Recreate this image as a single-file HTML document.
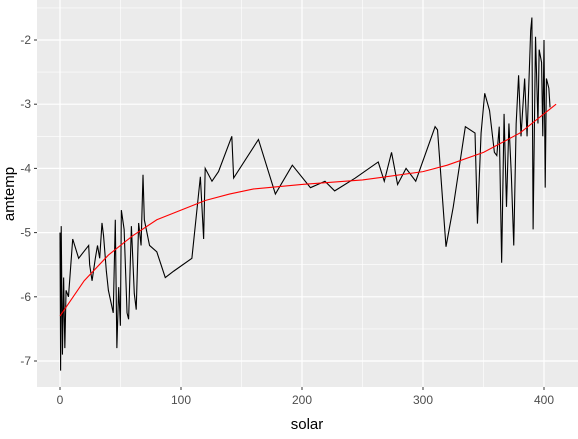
<!DOCTYPE html>
<html><head><meta charset="utf-8"><style>
body{margin:0;background:#fff;font-family:"Liberation Sans",sans-serif}
</style></head><body>
<svg id="c" width="578" height="434"></svg>
<script>
const solar=[0,0.5,1,2,3,4,5,7,10.5,15.4,23.7,24.5,26.5,29.2,31,32.8,34.7,36,38.3,40,44,45.7,47,48.5,49.9,50.7,53,55.4,56.7,59,61.4,63,65,67,68.6,69.7,74,80,87,94,109,116,118.7,120,125.6,131,142,143.5,164,178,192,207,219,227,244,263,268,274,279,286,294,310,312,319,325,335,343,345,348,351,355,359,361,363,365,367,369,371,373,375,377,379,381,384,386,389,390,391,393,395,396,398,399,400,401,402,404,405];
const amtemp=[-5.0,-7.15,-4.9,-6.9,-5.7,-6.8,-5.9,-6.0,-5.1,-5.4,-5.2,-5.5,-5.75,-5.4,-5.2,-5.4,-4.85,-5.05,-5.6,-5.9,-6.25,-4.8,-6.8,-5.85,-6.45,-4.65,-4.95,-6.25,-6.35,-4.9,-5.95,-6.2,-4.85,-5.2,-4.1,-4.8,-5.2,-5.3,-5.7,-5.6,-5.4,-4.13,-5.1,-4.0,-4.2,-4.05,-3.5,-4.15,-3.55,-4.4,-3.95,-4.3,-4.2,-4.35,-4.15,-3.9,-4.2,-3.75,-4.25,-4.0,-4.2,-3.35,-3.4,-5.22,-4.6,-3.35,-3.45,-4.86,-3.45,-2.83,-3.1,-3.75,-3.8,-3.35,-5.47,-3.15,-4.6,-3.3,-4.1,-5.2,-3.3,-2.55,-3.5,-2.6,-3.5,-1.85,-1.65,-4.95,-1.95,-3.3,-2.15,-2.35,-3.5,-2.0,-4.3,-2.6,-2.75,-3.05];
const fitX=[0,20,40,60,80,100,120,140,160,200,250,300,320,350,380,410];
const fitY=[-6.3,-5.75,-5.35,-5.05,-4.8,-4.65,-4.5,-4.4,-4.32,-4.25,-4.18,-4.05,-3.95,-3.75,-3.45,-3.0];
const xTicks=[0,100,200,300,400];
const yTicks=[-2,-3,-4,-5,-6,-7];
const sx=v=>60+v*1.21, sy=v=>40+(-2-v)*64.2;
const svg=document.getElementById('c');const NS='http://www.w3.org/2000/svg';
function el(t,a,p){const e=document.createElementNS(NS,t);for(const k in a)e.setAttribute(k,a[k]);(p||svg).appendChild(e);return e;}
const panel=el('rect',{x:37,y:0,width:541,height:387,fill:'#ebebeb'});


for(const t of xTicks){const m=el('line',{x1:sx(t+50),x2:sx(t+50),y1:0,y2:387,stroke:'#fff','stroke-width':0.6});}
for(const t of yTicks){const m=el('line',{x1:37,x2:578,y1:sy(t+0.5),y2:sy(t+0.5),stroke:'#fff','stroke-width':0.6});}
const m2=el('line',{x1:37,x2:578,y1:sy(-7.5),y2:sy(-7.5),stroke:'#fff','stroke-width':0.6});
for(const t of xTicks){
 const g=el('line',{x1:sx(t),x2:sx(t),y1:0,y2:387,stroke:'#fff','stroke-width':1.2});
 const k=el('line',{x1:sx(t),x2:sx(t),y1:387,y2:390,stroke:'#333'});
 const l=el('text',{x:sx(t),y:404,'text-anchor':'middle','font-size':12,fill:'#4d4d4d'});l.textContent=t;}
for(const t of yTicks){
 const g=el('line',{x1:37,x2:578,y1:sy(t),y2:sy(t),stroke:'#fff','stroke-width':1.2});
 const k=el('line',{x1:34,x2:37,y1:sy(t),y2:sy(t),stroke:'#333'});
 const l=el('text',{x:31,y:sy(t)+4,'text-anchor':'end','font-size':12,fill:'#4d4d4d'});l.textContent=t;}
const line=el('polyline',{points:solar.map((s,i)=>sx(s)+','+sy(amtemp[i])).join(' '),fill:'none',stroke:'#000','stroke-width':1.1});


const fit=el('polyline',{points:fitX.map((s,i)=>sx(s)+','+sy(fitY[i])).join(' '),fill:'none',stroke:'#f00','stroke-width':1.1});


const xt=el('text',{x:307,y:429,'text-anchor':'middle','font-size':15,fill:'#000'});xt.textContent='solar';


const yt=el('text',{x:14,y:194,'text-anchor':'middle','font-size':15,fill:'#000',transform:'rotate(-90 14 194)'});yt.textContent='amtemp';


</script>
</body></html>
